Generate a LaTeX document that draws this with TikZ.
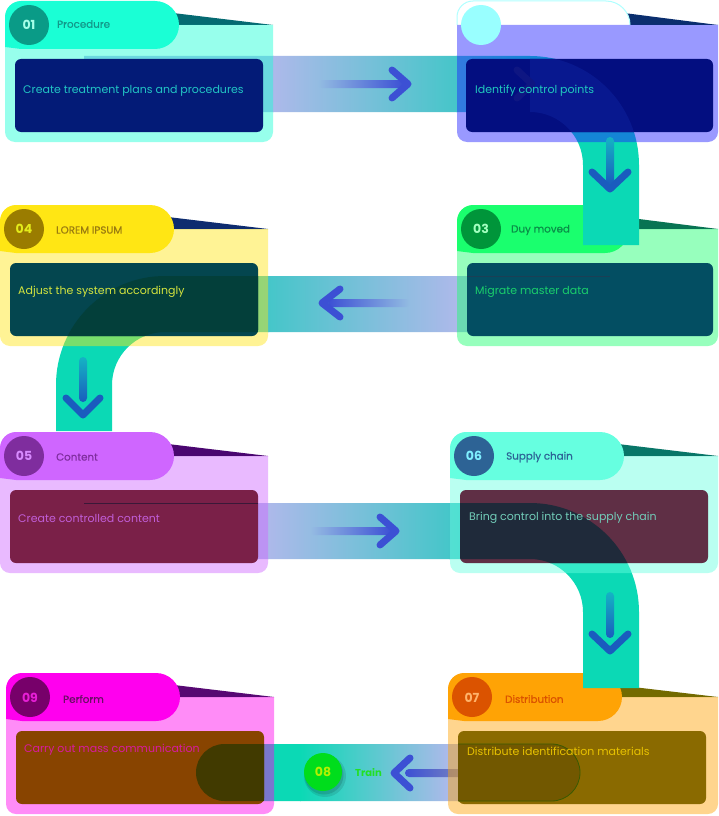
\documentclass[tikz,border=0pt]{standalone}
\usepackage{fontspec}
\setmainfont{Poppins}
\newfontfamily\medfont{Poppins}[FakeBold=0.5]
\definecolor{lav}{HTML}{ADB9EA}
\definecolor{tealH}{HTML}{45C6C9}
\definecolor{ringT}{HTML}{0BD9B5}
\definecolor{arrB}{HTML}{3C50D4}
\definecolor{arrD}{HTML}{1A5CBE}
\definecolor{tailD}{HTML}{14B4C4}
\definecolor{ovB}{HTML}{08188F}
\definecolor{ovBchev}{HTML}{0E1682}
\definecolor{ovD}{HTML}{033F3A}
\definecolor{ovF}{HTML}{1F2A3A}
\definecolor{ovI}{HTML}{413A00}
\definecolor{ovG}{HTML}{725800}
\definecolor{ovGline}{HTML}{3A5A00}
\definecolor{lineC}{HTML}{1B3F55}
\definecolor{lineE}{HTML}{3A1838}
% card A 01
\definecolor{Abase}{HTML}{1AFFD5}\definecolor{Atri}{HTML}{056A72}\definecolor{Acirc}{HTML}{0A9B87}
\definecolor{Anum}{HTML}{A6FFE8}\definecolor{Atitle}{HTML}{12998A}\definecolor{Ainner}{HTML}{031B77}\definecolor{Abody}{HTML}{22C6C4}
% card B 02
\definecolor{Bbase}{HTML}{1F1FFF}\definecolor{Btri}{HTML}{0A2E6E}\definecolor{Bcirc}{HTML}{99FFFF}
\definecolor{Bpill}{HTML}{B0FFFF}\definecolor{Binner}{HTML}{030E80}\definecolor{Bbody}{HTML}{20C9BE}
% card C 03
\definecolor{Cbase}{HTML}{1AFF6E}\definecolor{Ctri}{HTML}{087453}\definecolor{Ccirc}{HTML}{00953A}
\definecolor{Cnum}{HTML}{A3FFC0}\definecolor{Ctitle}{HTML}{0A8E48}\definecolor{Cinner}{HTML}{034E62}\definecolor{Cbody}{HTML}{1ACF6B}
% card D 04
\definecolor{Dbase}{HTML}{FFE614}\definecolor{Dtri}{HTML}{0E2C6F}\definecolor{Dcirc}{HTML}{9A7C00}
\definecolor{Dnum}{HTML}{E4EC1A}\definecolor{Dtitle}{HTML}{9A7B10}\definecolor{Dinner}{HTML}{04464F}\definecolor{Dbody}{HTML}{D4E43E}
% card E 05
\definecolor{Ebase}{HTML}{CF66FF}\definecolor{Etri}{HTML}{4A0670}\definecolor{Ecirc}{HTML}{7F2D9E}
\definecolor{Enum}{HTML}{D88BFF}\definecolor{Etitle}{HTML}{7F2D9E}\definecolor{Einner}{HTML}{7A2048}\definecolor{Ebody}{HTML}{C15ED8}
% card F 06
\definecolor{Fbase}{HTML}{66FFE0}\definecolor{Ftri}{HTML}{087668}\definecolor{Fcirc}{HTML}{2D6395}
\definecolor{Fnum}{HTML}{7FEFFF}\definecolor{Ftitle}{HTML}{2D6395}\definecolor{Finner}{HTML}{5F2F45}\definecolor{Fbody}{HTML}{72CDB9}
% card G 07
\definecolor{Gbase}{HTML}{FFA305}\definecolor{Gtri}{HTML}{736A00}\definecolor{Gcirc}{HTML}{DB5300}
\definecolor{Gnum}{HTML}{FFB36A}\definecolor{Gtitle}{HTML}{DB5300}\definecolor{Ginner}{HTML}{8A6A00}\definecolor{Gbody}{HTML}{E8C200}
% card I 09
\definecolor{Ibase}{HTML}{FF00EE}\definecolor{Itri}{HTML}{570873}\definecolor{Icirc}{HTML}{77006A}
\definecolor{Inum}{HTML}{E61FD6}\definecolor{Ititle}{HTML}{6B0E66}\definecolor{Iinner}{HTML}{884400}\definecolor{Ibody}{HTML}{D81AA0}
% node 08
\definecolor{Hcirc}{HTML}{00DD1C}\definecolor{Hnum}{HTML}{B5F000}\definecolor{Htitle}{HTML}{22E022}

\tikzset{
 num/.style={font=\bfseries\fontsize{12.5}{14}\selectfont, inner sep=0},
 ttl/.style={anchor=west, inner sep=0, font=\medfont\fontsize{10.3}{12}\selectfont},
 bodytxt/.style={anchor=west, inner sep=0, font=\fontsize{11}{13}\selectfont},
 chev/.style={line width=7, line cap=round, line join=round},
}
% #1 L, #2 T, #3 R, #4 pillR, #5 prefix, #6 innerR
\newcommand\mycard[6]{%
 \fill[#5tri] ({#4-6},{#2+12}) -- (#3,{#2+24}) -- ({#4-6},{#2+24}) -- cycle;
 \fill[#5base,opacity=.45] (#1,{#2+24}) -- (#3,{#2+24}) -- (#3,{#2+131}) arc[start angle=0,end angle=90,radius=10] -- ({#1+10},{#2+141}) arc[start angle=90,end angle=180,radius=10] -- cycle;
 \fill[#5base] ({#1+16},#2) -- ({#4-24},#2) arc[start angle=-90,end angle=90,radius=24] -- ({#1+16},{#2+48}) -- (#1,{#2+46}) -- (#1,{#2+16}) arc[start angle=180,end angle=270,radius=16] -- cycle;
 \fill[#5inner,rounded corners=6] ({#1+10},{#2+58}) rectangle (#6,{#2+131});
 \fill[#5circ] ({#1+24},{#2+24}) circle[radius=20];
}
\newcommand\bandApath{(84,56) -- (530,56) arc[start angle=-90,end angle=0,radius=109] -- (639,245) -- (583,245) -- (583,165) arc[start angle=0,end angle=-90,radius=53] -- (84,112) -- cycle}
\newcommand\ringApath{(530,56) arc[start angle=-90,end angle=0,radius=109] -- (639,245) -- (583,245) -- (583,165) arc[start angle=0,end angle=-90,radius=53] -- cycle}
\newcommand\bandBpath{(610,276) -- (165,276) arc[start angle=-90,end angle=-180,radius=109] -- (56,431) -- (112,431) -- (112,385) arc[start angle=180,end angle=270,radius=53] -- (610,332) -- cycle}
\newcommand\bandCpath{(84,503) -- (530,503) arc[start angle=-90,end angle=0,radius=109] -- (639,688) -- (583,688) -- (583,612) arc[start angle=0,end angle=-90,radius=53] -- (84,559) -- cycle}
\newcommand\bandDpath{[rounded corners=28.5] (196,744) rectangle (580,801)}

\begin{document}
\begin{tikzpicture}[x=1pt,y=-1pt]
\useasboundingbox (0,0) rectangle (718,816);
\fill[white] (0,0) rectangle (718,816);

% ---- band B (03 -> 04 -> 05) and band D (07 -> 09)
\begin{scope}
 \clip \bandBpath;
 \fill[ringT] (40,260) rectangle (200,440);
 \shade[left color=ringT,right color=tealH] (199,260) rectangle (269,340);
 \shade[left color=tealH,right color=lav] (268,260) rectangle (457,340);
 \fill[lav] (456,260) rectangle (620,340);
\end{scope}
\begin{scope}
 \clip \bandDpath;
 \fill[ringT] (190,740) rectangle (301,805);
 \shade[left color=ringT,right color=lav] (300,740) rectangle (450,805);
 \fill[lav] (449,740) rectangle (590,805);
\end{scope}
\shade[left color=arrB,right color=lav!80!black,rounded corners=4] (405,769) rectangle (482,777);

% ---- lower-layer cards
\mycard{457}{205}{718}{629}{C}{713}
\mycard{0}{205}{268}{174}{D}{258}
\mycard{448}{673}{718}{622}{G}{706}
\mycard{6}{673}{274}{180}{I}{264}

% ---- band A (01 -> 02 -> 03) and band C (05 -> 06 -> 07)
\begin{scope}
 \clip \bandApath;
 \fill[lav] (80,50) rectangle (274,120);
 \shade[left color=lav,right color=tealH] (273,50) rectangle (457,120);
 \shade[left color=tealH,right color=ringT] (456,50) rectangle (531,120);
 \fill[ringT] (530,50) rectangle (650,250);
\end{scope}
\begin{scope}
 \clip \bandCpath;
 \fill[lav] (80,495) rectangle (269,565);
 \shade[left color=lav,right color=tealH] (268,495) rectangle (450,565);
 \shade[left color=tealH,right color=ringT] (449,495) rectangle (531,565);
 \fill[ringT] (530,495) rectangle (650,695);
\end{scope}

% ---- upper-layer cards
\mycard{5}{1}{273}{179}{A}{263}
% card 02 (white pill, only its upper half shows)
\fill[Btri] (624,13) -- (718,25) -- (624,25) -- cycle;
\begin{scope}
 \clip (440,-5) rectangle (640,25);
 \filldraw[fill=white,draw=Bpill,line width=1] (473,1) -- (606,1) arc[start angle=-90,end angle=90,radius=24] -- (473,49) -- (457,47) -- (457,17) arc[start angle=180,end angle=270,radius=16] -- cycle;
\end{scope}
\fill[Bbase,opacity=.45] (457,25) -- (718,25) -- (718,132) arc[start angle=0,end angle=90,radius=10] -- (467,142) arc[start angle=90,end angle=180,radius=10] -- cycle;
\fill[Binner,rounded corners=6] (466,59) rectangle (713,132);
\fill[Bcirc] (481,25) circle[radius=20];
\mycard{0}{432}{268}{174}{E}{258}
\mycard{450}{432}{718}{624}{F}{708}

% ---- see-through overlays
\begin{scope}
 \clip[rounded corners=6] (466,59) rectangle (713,132);
 \fill[ovB] \ringApath;
 \draw[chev,ovBchev] (517,70) -- (532,84) -- (517,98);
\end{scope}
\begin{scope}
 \clip[rounded corners=6] (10,263) rectangle (258,336);
 \fill[ovD] \bandBpath;
\end{scope}
\begin{scope}
 \clip[rounded corners=6] (460,490) rectangle (708,563);
 \fill[ovF] \bandCpath;
\end{scope}
\begin{scope}
 \clip[rounded corners=6] (16,732) rectangle (264,806);
 \fill[ovI] \bandDpath;
\end{scope}
\begin{scope}
 \clip[rounded corners=6] (458,732) rectangle (706,806);
 \fill[ovG] \bandDpath;
 \draw[ovGline,line width=.8] \bandDpath;
\end{scope}
\draw[lineC,line width=.8] (467,276) -- (610,276);
\draw[lineE,line width=.8] (84,503) -- (258,503);

% ---- arrows
\shade[left color=lav!75!tealH,right color=arrB,rounded corners=4] (318,80) rectangle (404,88);
\draw[chev,arrB] (392,70) -- (408,84) -- (392,98);
\shade[left color=arrB,right color=lav!75!tealH,rounded corners=4] (328,299) rectangle (410,307);
\draw[chev,arrB] (340,289) -- (322,303) -- (340,317);
\shade[left color=lav!77!tealH,right color=arrB,rounded corners=4] (310,527) rectangle (392,535);
\draw[chev,arrB] (380,517) -- (396,531) -- (380,545);
\draw[chev,arrB] (410,758) -- (394,773) -- (410,788);
\shade[top color=tailD,bottom color=arrD,rounded corners=4] (606,137) rectangle (614,184);
\draw[chev,arrD] (592,172) -- (610,189) -- (628,172);
\shade[top color=tailD,bottom color=arrD,rounded corners=4] (79,357) rectangle (87,402);
\draw[chev,arrD] (66,398) -- (83,415) -- (100,398);
\shade[top color=tailD,bottom color=arrD,rounded corners=4] (606,592) rectangle (614,638);
\draw[chev,arrD] (592,634) -- (610,651) -- (628,634);

% ---- node 08
\fill[black,opacity=.10] (325,776) circle[radius=21];
\fill[black,opacity=.12] (324,775) circle[radius=19.5];
\node[circle,fill=Hcirc,minimum size=38,num,text=Hnum] (n8) at (323,772) {08};
\node[ttl,font=\bfseries\fontsize{10}{12}\selectfont,text=Htitle] (t8) at (355,773) {Train};

% ---- texts
\node[num,text=Anum] (n1) at (29,25) {01};
\node[ttl,text=Atitle] (t1) at (57,24) {Procedure};
\node[bodytxt,text=Abody] (b1) at (23,91) {Create treatment plans and procedures};
\node[bodytxt,text=Bbody] (b2) at (475,91) {Identify control points};
\node[num,text=Cnum] (n3) at (481,229) {03};
\node[ttl,text=Ctitle] (t3) at (511,230) {Duy moved};
\node[bodytxt,text=Cbody] (b3) at (475,292) {Migrate master data};
\node[num,text=Dnum] (n4) at (24,229) {04};
\node[ttl,text=Dtitle] (t4) at (56,230) {LOREM IPSUM};
\node[bodytxt,text=Dbody] (b4) at (18,292) {Adjust the system accordingly};
\node[num,text=Enum] (n5) at (24,456) {05};
\node[ttl,text=Etitle] (t5) at (56,457) {Content};
\node[bodytxt,text=Ebody] (b5) at (18,518) {Create controlled content};
\node[num,text=Fnum] (n6) at (474,456) {06};
\node[ttl,text=Ftitle] (t6) at (506,457) {Supply chain};
\node[bodytxt,text=Fbody] (b6) at (469,518) {Bring control into the supply chain};
\node[num,text=Gnum] (n7) at (472,698) {07};
\node[ttl,text=Gtitle] (t7) at (505,699) {Distribution};
\node[bodytxt,text=Gbody] (b7) at (467,751) {Distribute identification materials};
\node[num,text=Inum] (n9) at (30,698) {09};
\node[ttl,text=Ititle] (t9) at (63,699) {Perform};
\node[bodytxt,text=Ibody] (b9) at (24,750) {Carry out mass communication};
\end{tikzpicture}
\end{document}
